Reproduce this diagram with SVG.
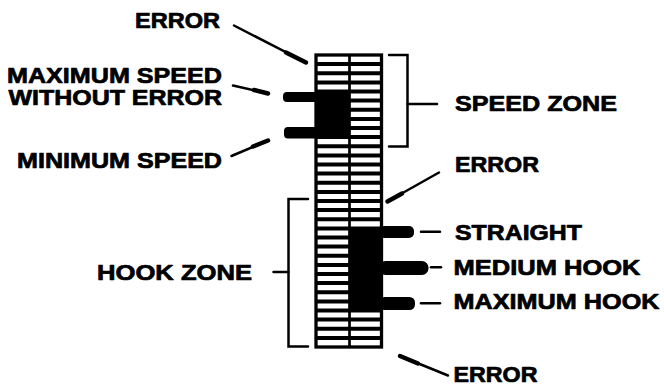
<svg xmlns="http://www.w3.org/2000/svg" width="664" height="386" viewBox="0 0 664 386">
<style>
  .lbl { font-family: "Liberation Sans", Arial, sans-serif; font-weight: bold; font-size: 21.5px; fill: #000; stroke: #000; stroke-width: 0.7; stroke-linejoin: round; }
  .ln { stroke: #000; stroke-width: 2.5; fill: none; stroke-linecap: round; }
  .tip { stroke: #000; stroke-width: 4.5; fill: none; stroke-linecap: round; }
  .rung { stroke: #000; stroke-width: 4; }
  .blk { fill: #000; }
</style>
<rect width="664" height="386" fill="#fff"/>

<g id="column">
  <rect x="316" y="55" width="65.5" height="292" fill="#fff" stroke="#000" stroke-width="3.3"/>
  <line x1="349.5" y1="55" x2="349.5" y2="347" stroke="#000" stroke-width="2.7"/>
  <g id="rungs">
    <line class="rung" x1="316" x2="381.5" y1="64.1" y2="64.1"/>
    <line class="rung" x1="316" x2="381.5" y1="73.3" y2="73.3"/>
    <line class="rung" x1="316" x2="381.5" y1="82.4" y2="82.4"/>
    <line class="rung" x1="316" x2="381.5" y1="91.5" y2="91.5"/>
    <line class="rung" x1="316" x2="381.5" y1="100.6" y2="100.6"/>
    <line class="rung" x1="316" x2="381.5" y1="109.8" y2="109.8"/>
    <line class="rung" x1="316" x2="381.5" y1="118.9" y2="118.9"/>
    <line class="rung" x1="316" x2="381.5" y1="128.0" y2="128.0"/>
    <line class="rung" x1="316" x2="381.5" y1="137.1" y2="137.1"/>
    <line class="rung" x1="316" x2="381.5" y1="146.3" y2="146.3"/>
    <line class="rung" x1="316" x2="381.5" y1="155.4" y2="155.4"/>
    <line class="rung" x1="316" x2="381.5" y1="164.5" y2="164.5"/>
    <line class="rung" x1="316" x2="381.5" y1="173.6" y2="173.6"/>
    <line class="rung" x1="316" x2="381.5" y1="182.8" y2="182.8"/>
    <line class="rung" x1="316" x2="381.5" y1="191.9" y2="191.9"/>
    <line class="rung" x1="316" x2="381.5" y1="201.0" y2="201.0"/>
    <line class="rung" x1="316" x2="381.5" y1="210.1" y2="210.1"/>
    <line class="rung" x1="316" x2="381.5" y1="219.3" y2="219.3"/>
    <line class="rung" x1="316" x2="381.5" y1="228.4" y2="228.4"/>
    <line class="rung" x1="316" x2="381.5" y1="237.5" y2="237.5"/>
    <line class="rung" x1="316" x2="381.5" y1="246.6" y2="246.6"/>
    <line class="rung" x1="316" x2="381.5" y1="255.8" y2="255.8"/>
    <line class="rung" x1="316" x2="381.5" y1="264.9" y2="264.9"/>
    <line class="rung" x1="316" x2="381.5" y1="274.0" y2="274.0"/>
    <line class="rung" x1="316" x2="381.5" y1="283.1" y2="283.1"/>
    <line class="rung" x1="316" x2="381.5" y1="292.3" y2="292.3"/>
    <line class="rung" x1="316" x2="381.5" y1="301.4" y2="301.4"/>
    <line class="rung" x1="316" x2="381.5" y1="310.5" y2="310.5"/>
    <line class="rung" x1="316" x2="381.5" y1="319.6" y2="319.6"/>
    <line class="rung" x1="316" x2="381.5" y1="328.8" y2="328.8"/>
    <line class="rung" x1="316" x2="381.5" y1="337.9" y2="337.9"/>
  </g>
</g>

<g id="speed-block">
  <rect class="blk" x="316" y="90" width="33.5" height="49"/>
  <rect class="blk" x="283" y="92" width="36" height="10" rx="4"/>
  <rect class="blk" x="284" y="127" width="35" height="11.5" rx="4"/>
</g>

<g id="hook-block">
  <rect class="blk" x="349.5" y="227" width="32" height="83"/>
  <rect class="blk" x="379" y="226" width="35" height="12" rx="5"/>
  <rect class="blk" x="379" y="261" width="49.5" height="14" rx="6.5"/>
  <rect class="blk" x="379" y="297" width="36" height="13" rx="5.5"/>
</g>

<g id="connectors">
  <line class="ln" x1="234" y1="25.5" x2="306" y2="62.5"/>
  <line class="tip" x1="286" y1="52.5" x2="306" y2="62.5"/>
  <line class="ln" x1="233" y1="85.5" x2="268" y2="93.5"/>
  <line class="tip" x1="254" y1="90" x2="268" y2="93.5"/>
  <line class="ln" x1="231.5" y1="156" x2="268" y2="140.5"/>
  <line class="tip" x1="253" y1="146.5" x2="268" y2="140.5"/>
  <line class="ln" x1="439" y1="172.5" x2="387.5" y2="201.5"/>
  <line class="tip" x1="402" y1="193.5" x2="387.5" y2="201.5"/>
  <line class="ln" x1="400" y1="356" x2="448" y2="375.5"/>
  <line class="tip" x1="400" y1="356" x2="418" y2="363.5"/>
  <line class="ln" x1="421" y1="231.7" x2="440" y2="231.7"/>
  <line class="ln" x1="431" y1="267.3" x2="441" y2="267.3"/>
  <line class="ln" x1="421" y1="303.3" x2="440" y2="303.3"/>
</g>

<g id="speed-zone-bracket">
  <polyline class="ln" points="389,55 407.5,55 407.5,146.5 389,146.5"/>
  <line class="ln" x1="407.5" y1="104" x2="437" y2="104"/>
</g>

<g id="hook-zone-bracket">
  <polyline class="ln" points="308,199 288.5,199 288.5,346.5 308,346.5"/>
  <line class="ln" x1="273.5" y1="272" x2="288.5" y2="272"/>
</g>

<g id="label-error-top"><text class="lbl" x="135" y="28" textLength="85" lengthAdjust="spacingAndGlyphs">ERROR</text></g>
<g id="label-max-speed">
  <text class="lbl"><tspan x="7" y="82.7" textLength="215" lengthAdjust="spacingAndGlyphs">MAXIMUM SPEED</tspan><tspan x="8.5" y="105" textLength="213.5" lengthAdjust="spacingAndGlyphs">WITHOUT ERROR</tspan></text>
</g>
<g id="label-min-speed"><text class="lbl" x="17" y="168.3" textLength="205" lengthAdjust="spacingAndGlyphs">MINIMUM SPEED</text></g>
<g id="label-speed-zone"><text class="lbl" x="455" y="111" textLength="162" lengthAdjust="spacingAndGlyphs">SPEED ZONE</text></g>
<g id="label-error-mid"><text class="lbl" x="455" y="171.7" textLength="84" lengthAdjust="spacingAndGlyphs">ERROR</text></g>
<g id="label-straight"><text class="lbl" x="455" y="240" textLength="127" lengthAdjust="spacingAndGlyphs">STRAIGHT</text></g>
<g id="label-medium-hook"><text class="lbl" x="453.5" y="275" textLength="187" lengthAdjust="spacingAndGlyphs">MEDIUM HOOK</text></g>
<g id="label-maximum-hook"><text class="lbl" x="453.5" y="309.3" textLength="206" lengthAdjust="spacingAndGlyphs">MAXIMUM HOOK</text></g>
<g id="label-error-bottom"><text class="lbl" x="453.5" y="381.5" textLength="84" lengthAdjust="spacingAndGlyphs">ERROR</text></g>
<g id="label-hook-zone"><text class="lbl" x="97" y="280" textLength="155" lengthAdjust="spacingAndGlyphs">HOOK ZONE</text></g>
</svg>
